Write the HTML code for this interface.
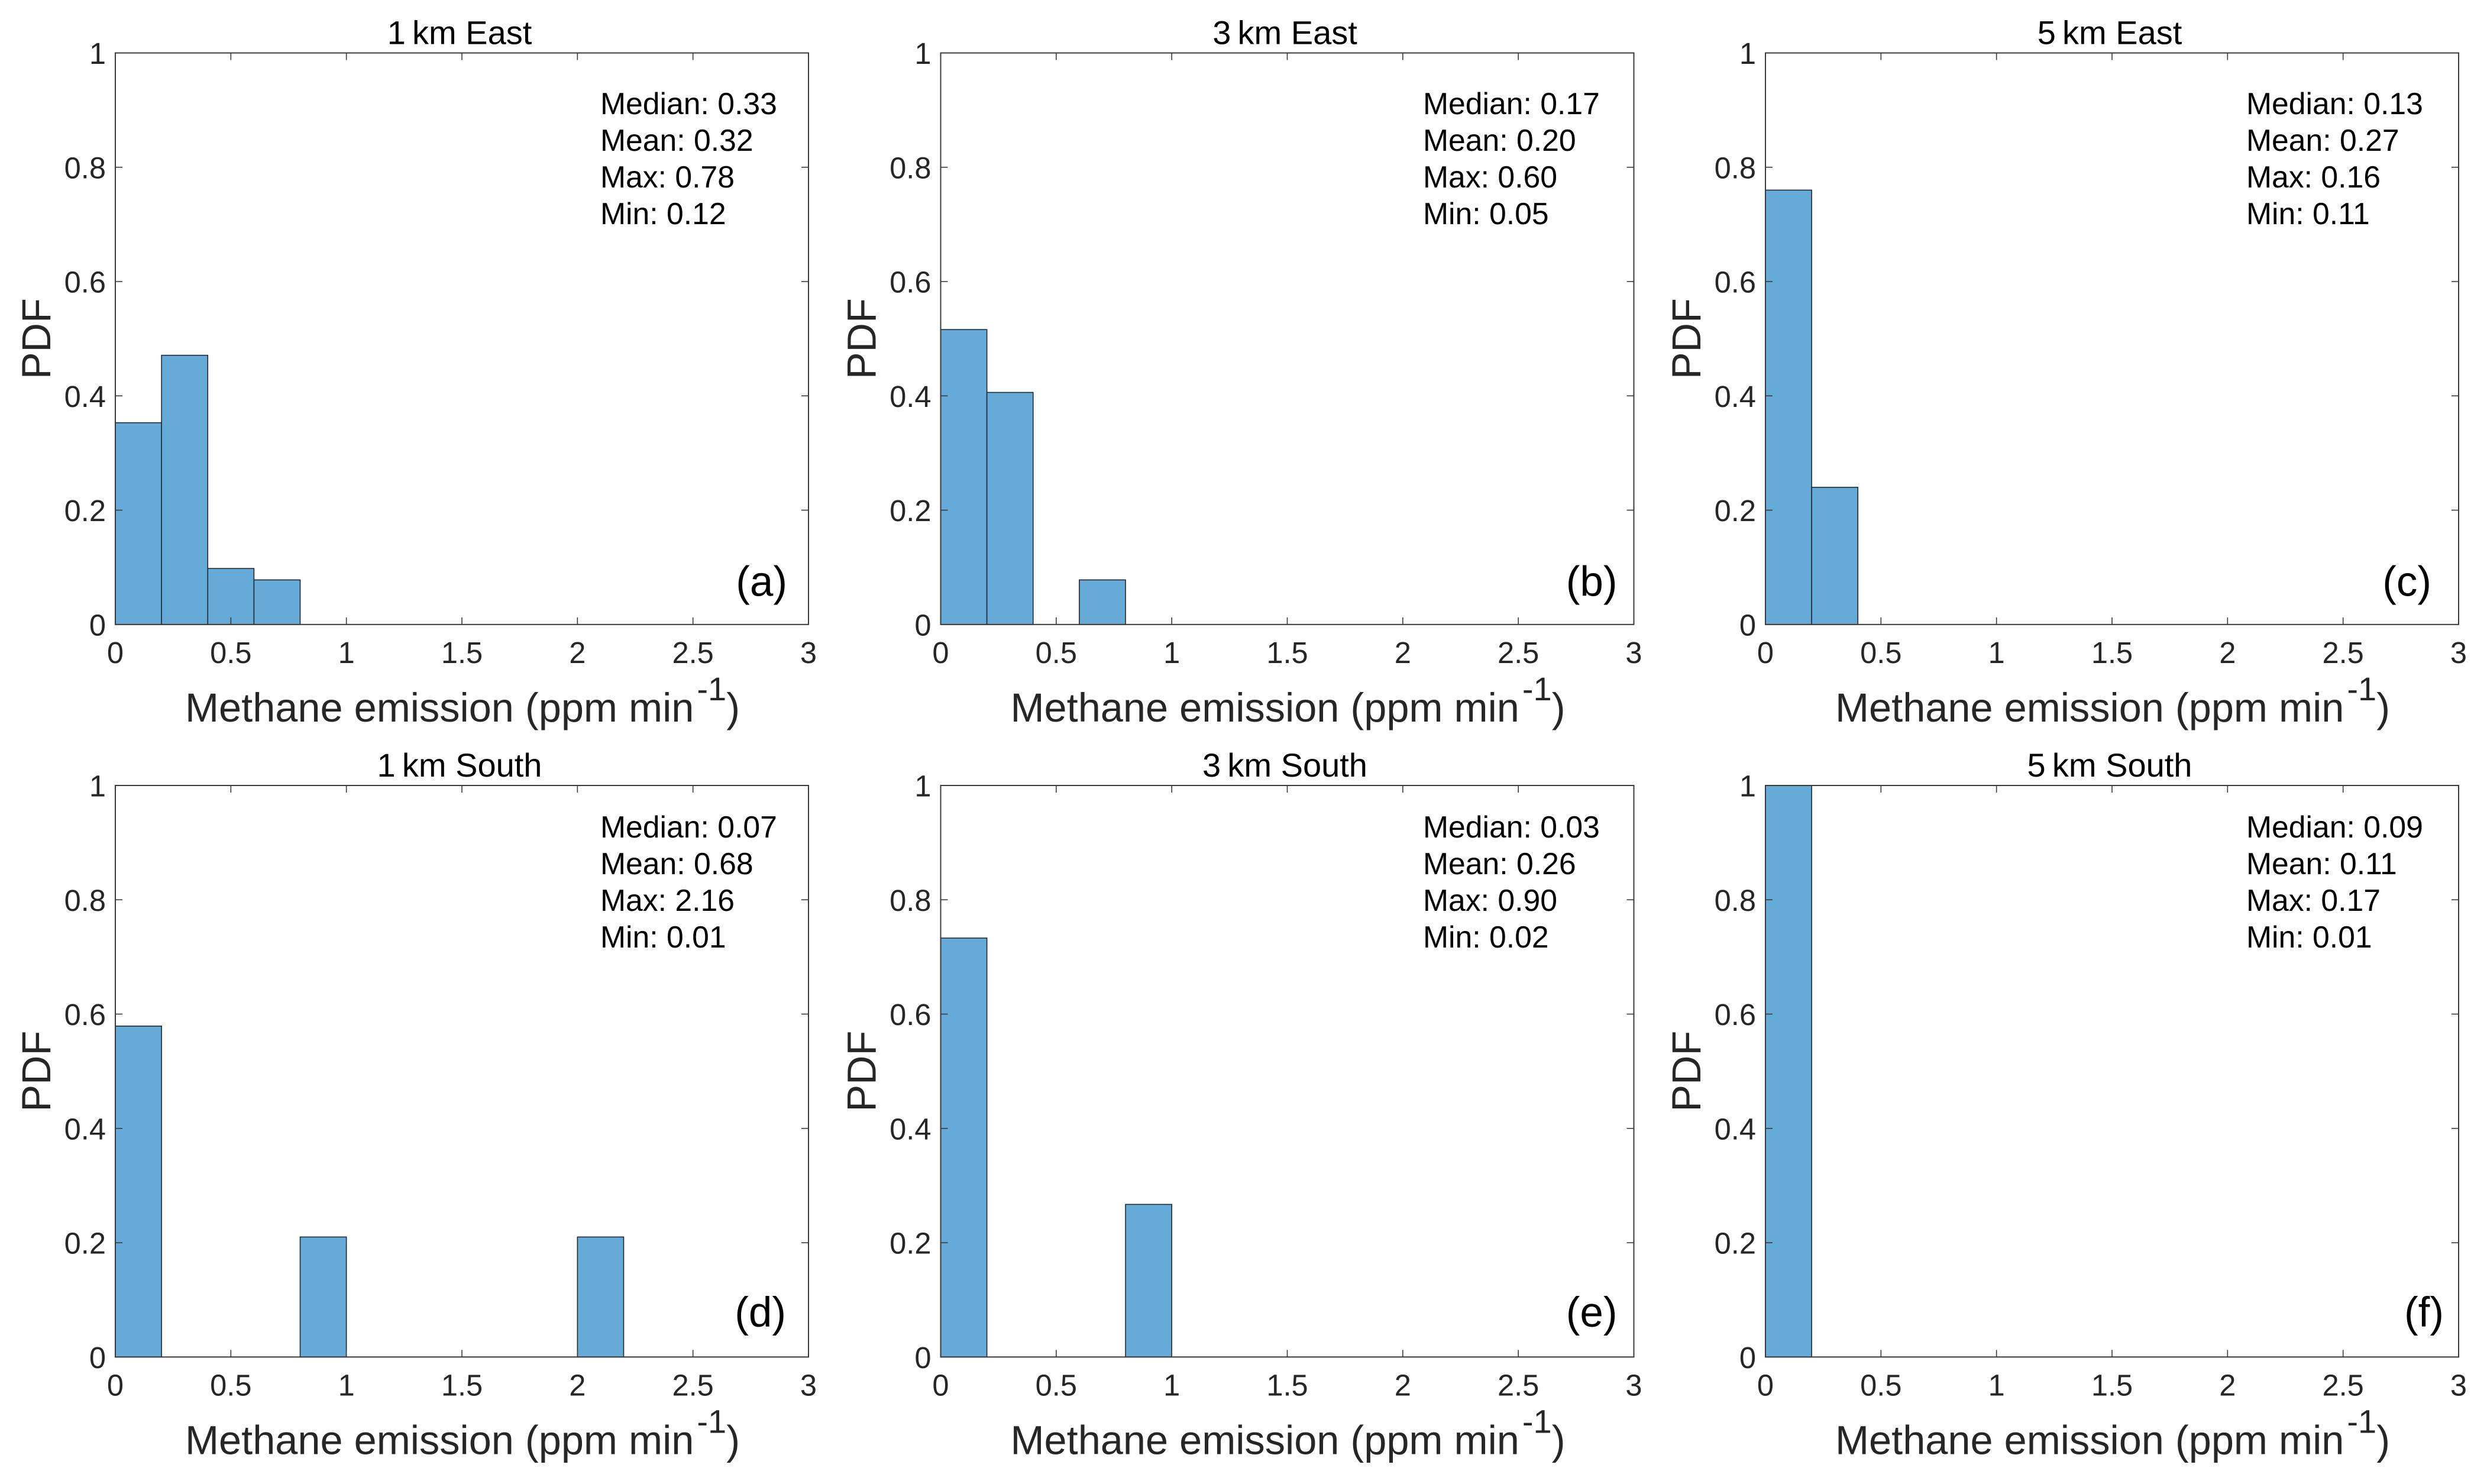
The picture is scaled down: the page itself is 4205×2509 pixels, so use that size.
<!DOCTYPE html>
<html lang="en">
<head>
<meta charset="utf-8">
<title>Methane emission PDF histograms</title>
<style>
html,body{margin:0;padding:0;background:#fff;}
svg{display:block;}
text{font-family:"Liberation Sans",Arial,sans-serif;}
</style>
</head>
<body>
<svg id="figure" xmlns="http://www.w3.org/2000/svg" width="4205" height="2509" viewBox="0 0 4205 2509">
<rect x="0" y="0" width="4205" height="2509" fill="#ffffff"/>
</svg>
<script>
// ---- chart data ----
var panelTitles = ['1\u2009km East', '3\u2009km East', '5\u2009km East', '1\u2009km South', '3\u2009km South', '5\u2009km South'];
var panelLetters = ['(a)', '(b)', '(c)', '(d)', '(e)', '(f)'];
var binEdges = [0, 0.2, 0.4, 0.6, 0.8, 1.0, 1.2, 1.4, 1.6, 1.8, 2.0, 2.2];
var pdf1kmEast = [0.353, 0.471, 0.098, 0.078, 0, 0, 0, 0, 0, 0, 0];
var pdf3kmEast = [0.516, 0.406, 0, 0.078, 0, 0, 0, 0, 0, 0, 0];
var pdf5kmEast = [0.76, 0.24, 0, 0, 0, 0, 0, 0, 0, 0, 0];
var pdf1kmSouth = [0.579, 0, 0, 0, 0.21, 0, 0, 0, 0, 0, 0.21];
var pdf3kmSouth = [0.733, 0, 0, 0, 0.267, 0, 0, 0, 0, 0, 0];
var pdf5kmSouth = [1, 0, 0, 0, 0, 0, 0, 0, 0, 0, 0];
var medians = [0.33, 0.17, 0.13, 0.07, 0.03, 0.09];
var means = [0.32, 0.20, 0.27, 0.68, 0.26, 0.11];
var maxima = [0.78, 0.60, 0.16, 2.16, 0.90, 0.17];
var minima = [0.12, 0.05, 0.11, 0.01, 0.02, 0.01];
var xTicks = [0, 0.5, 1, 1.5, 2, 2.5, 3];
var yTicks = [0, 0.2, 0.4, 0.6, 0.8, 1];
var xLimit = [0, 3];
var yLimit = [0, 1];

// ---- layout ----
var colLeft = [195, 1590.5, 2985];
var rowTop = [89.5, 1328];
var axW = 1172, axH = 966.3;
var letterInset = [36, 28, 46, 38, 28, 25];
var SPINE = '#3a3a3a', INK = '#262626';
var svg = document.getElementById('figure');
var NS = 'http://www.w3.org/2000/svg';

function mk(tag, parent) {
  var el = document.createElementNS(NS, tag);
  parent.appendChild(el);
  return el;
}
function setAll(el, obj) {
  for (var k in obj) { el.setAttribute(k, obj[k]); }
  return el;
}
function line(parent, x1, y1, x2, y2, w) {
  return setAll(mk('line', parent), {x1: x1, y1: y1, x2: x2, y2: y2, stroke: SPINE, 'stroke-width': w});
}
function label(parent, str, x, y, size, anchor, fill) {
  var t = setAll(mk('text', parent), {x: x, y: y, 'font-size': size, 'text-anchor': anchor, fill: fill});
  t.textContent = str;
  return t;
}
function fmtTick(v) { return String(v); }

var seriesByPanel = [pdf1kmEast, pdf3kmEast, pdf5kmEast, pdf1kmSouth, pdf3kmSouth, pdf5kmSouth];

function drawPanel(i) {
  var col = i % 3, row = Math.floor(i / 3);
  var L = colLeft[col], T = rowTop[row];
  var R = L + axW, B = T + axH;
  var sx = function (v) { return L + (v - xLimit[0]) / (xLimit[1] - xLimit[0]) * axW; };
  var sy = function (v) { return B - (v - yLimit[0]) / (yLimit[1] - yLimit[0]) * axH; };
  var tag = panelLetters[i].charAt(1);

  var g = mk('g', svg);
  
  

  // bars
  var series = seriesByPanel[i];
  series.forEach(function (v, b) {
    if (v <= 0) { return; }
    var bar = setAll(mk('rect', g), {
      x: sx(binEdges[b]), y: sy(v),
      width: sx(binEdges[b + 1]) - sx(binEdges[b]), height: sy(0) - sy(v),
      fill: '#66aad8', stroke: '#1f2a33', 'stroke-width': 1.6
    });
    
    
  });

  // frame
  var frame = setAll(mk('rect', g), {x: L, y: T, width: axW, height: axH, fill: 'none', stroke: SPINE, 'stroke-width': 2});
  
  

  // x ticks
  xTicks.forEach(function (v) {
    if (v > xLimit[0] && v < xLimit[1]) {
      var a = line(g, sx(v), B, sx(v), B - 12, 1.6);
      
      
      var b = line(g, sx(v), T, sx(v), T + 12, 1.6);
      
      
    }
    var t = label(g, fmtTick(v), sx(v), B + 65, 50.6, 'middle', INK);
    
    
  });

  // y ticks
  yTicks.forEach(function (v) {
    if (v > yLimit[0] && v < yLimit[1]) {
      var a = line(g, L, sy(v), L + 12, sy(v), 1.6);
      
      
      var b = line(g, R, sy(v), R - 12, sy(v), 1.6);
      
      
    }
    var t = label(g, fmtTick(v), L - 16, sy(v) + 18.5, 50.6, 'end', INK);
    
    
  });

  // title
  var title = label(g, panelTitles[i], L + axW / 2 - 4, T - 15, 56, 'middle', '#000000');
  
  

  // y label
  var yl = label(g, 'PDF', 0, 0, 68.5, 'middle', INK);
  yl.setAttribute('transform', 'translate(' + (L - 110) + ',' + (T + axH / 2) + ') rotate(-90)');
  
  

  // x label with superscript
  var xl = setAll(mk('text', g), {x: L + 118, y: B + 164, 'font-size': 68.5, fill: INK});
  
  
  var s1 = mk('tspan', xl);
  s1.textContent = 'Methane emission (ppm min';
  var s2 = setAll(mk('tspan', xl), {dy: -36, dx: 5, 'font-size': 56});
  s2.textContent = '-1';
  var s3 = setAll(mk('tspan', xl), {dy: 36});
  s3.textContent = ')';

  // statistics annotation
  var statX = [1015, 2406, 3798][col];
  var statY = row === 0 ? T + 103.5 : T + 88;
  var stats = [
    'Median: ' + medians[i].toFixed(2),
    'Mean: ' + means[i].toFixed(2),
    'Max: ' + maxima[i].toFixed(2),
    'Min: ' + minima[i].toFixed(2)
  ];
  stats.forEach(function (s, k) {
    var t = label(g, s, statX, statY + k * 62, 51.7, 'start', '#000000');
    
    
  });

  // panel letter
  var pl = label(g, panelLetters[i], R - letterInset[i], row === 0 ? T + 918 : T + 915, 71, 'end', '#000000');
  
  
}

for (var p = 0; p < 6; p++) { drawPanel(p); }
</script>
</body>
</html>
